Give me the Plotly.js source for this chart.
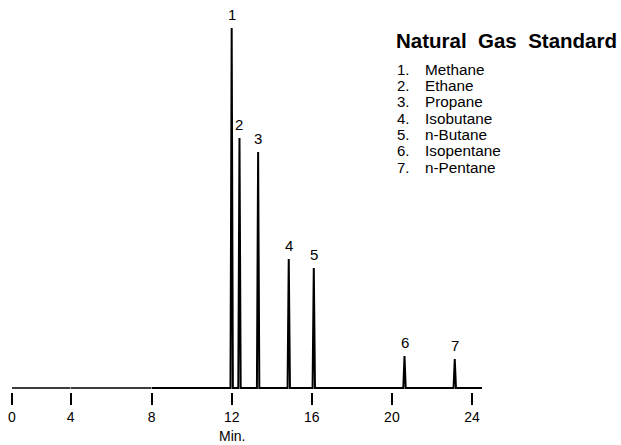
<!DOCTYPE html>
<html>
<head>
<meta charset="utf-8">
<script src="https://cdn.plot.ly/plotly-3.0.1.min.js"></script>
<style>
  html, body { margin: 0; padding: 0; background: #fff; }
  #chart { width: 621px; height: 445px; }
</style>
</head>
<body>
<div id="chart"></div>
<script>
// peaks (retention time in min, height in relative units)
var peakNumbers = ['1', '2', '3', '4', '5', '6', '7'];
var retentionTimes = [12.0, 12.39, 13.32, 14.85, 16.1, 20.63, 23.14];
var peakHeights = [360, 250, 236, 129, 120, 32, 29];
var compoundNames = ['Methane', 'Ethane', 'Propane', 'Isobutane', 'n-Butane', 'Isopentane', 'n-Pentane'];

var lateTicks = [8, 12, 16, 20, 24];
var runEnd = 24.5;

var font = '"Liberation Sans", Arial, Helvetica, sans-serif';

// spike trace: flat baseline with a narrow peak at each retention time
var halfWidth = 0.06;
var px = [8], py = [0];
retentionTimes.forEach(function(rt, i) {
  px.push(rt - halfWidth, rt, rt + halfWidth);
  py.push(0, peakHeights[i], 0);
});
px.push(runEnd);
py.push(0);

// the original time axis is squeezed before 8 min, so it is drawn in pieces
var baseline1 = {
  x: [0, 4], y: [0, 0], xaxis: 'x', yaxis: 'y',
  mode: 'lines', type: 'scatter',
  line: { color: '#3c3c3c', width: 1.8 },
  hoverinfo: 'skip',
};

var baseline2 = {
  x: [4, 8], y: [0, 0], xaxis: 'x3', yaxis: 'y',
  mode: 'lines', type: 'scatter',
  line: { color: '#3c3c3c', width: 1.8 },
  hoverinfo: 'skip',
};

var peaksTrace = {
  x: px, y: py, xaxis: 'x2', yaxis: 'y',
  mode: 'lines', type: 'scatter',
  line: { color: '#000000', width: 2 },
  hoverinfo: 'skip',
};

// plot area spans 12..482 px horizontally
var plotW = 470.4;
var cut4 = (70.7 - 12) / plotW;
var cut8 = (151.7 - 12) / plotW;

var annotations = [];

retentionTimes.forEach(function(rt, i) {
  annotations.push({
    text: peakNumbers[i],
    x: rt,
    y: peakHeights[i],
    xref: 'x2',
    yref: 'y',
    xanchor: 'center',
    yanchor: 'bottom',
    yshift: 3,
    showarrow: false,
    font: { family: font, size: 15, color: '#000' },
  });
});

annotations.push({
  text: 'Natural&nbsp;&nbsp;Gas&nbsp;&nbsp;Standard',
  x: 0.812,
  y: 0.944,
  xref: 'paper',
  yref: 'paper',
  xanchor: 'left',
  yanchor: 'middle',
  showarrow: false,
  font: { family: font, size: 20.5, color: '#000', weight: 'bold' },
});

compoundNames.forEach(function(name, i) {
  var yy = 0.8675 - i * 0.0438;
  annotations.push({
    text: peakNumbers[i] + '.',
    x: 0.814,
    y: yy,
    xref: 'paper',
    yref: 'paper',
    xanchor: 'left',
    yanchor: 'middle',
    showarrow: false,
    font: { family: font, size: 15, color: '#000' },
  });
  annotations.push({
    text: name,
    x: 0.874,
    y: yy,
    xref: 'paper',
    yref: 'paper',
    xanchor: 'left',
    yanchor: 'middle',
    showarrow: false,
    font: { family: font, size: 15.3, color: '#000' },
  });
});

annotations.push({
  text: 'Min.',
  x: 12,
  y: -0.118,
  xref: 'x2',
  yref: 'paper',
  xanchor: 'center',
  yanchor: 'middle',
  showarrow: false,
  font: { family: font, size: 14, color: '#000' },
});

var axisCommon = {
  showgrid: false,
  zeroline: false,
  showline: false,
  ticks: 'outside',
  ticklen: 12,
  tickwidth: 2,
  tickcolor: '#000',
  tickfont: { family: font, size: 14, color: '#000' },
  fixedrange: true,
  anchor: 'y',
  tickmode: 'array',
};

var layout = {
  width: 621,
  height: 445,
  margin: { l: 12, r: 138.6, t: 20, b: 53 },
  paper_bgcolor: '#fff',
  plot_bgcolor: '#fff',
  showlegend: false,
  xaxis: Object.assign({}, axisCommon, {
    domain: [0, cut4],
    range: [0, 4],
    tickvals: [0],
  }),
  xaxis3: Object.assign({}, axisCommon, {
    domain: [cut4, cut8],
    range: [4, 8],
    tickvals: [4],
  }),
  xaxis2: Object.assign({}, axisCommon, {
    domain: [cut8, 1],
    range: [8, runEnd],
    tickvals: lateTicks,
  }),
  yaxis: {
    range: [-4, 368],
    visible: false,
    fixedrange: true,
  },
  annotations: annotations,
};

Plotly.newPlot('chart', [baseline1, baseline2, peaksTrace], layout, { displayModeBar: false, staticPlot: true });
</script>
</body>
</html>
